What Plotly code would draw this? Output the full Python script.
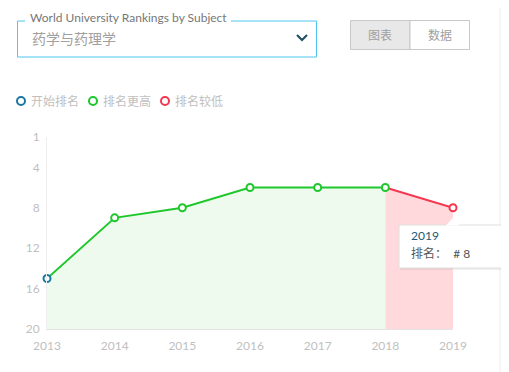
import plotly.graph_objects as go

years = [2013, 2014, 2015, 2016, 2017, 2018, 2019]
ranks = [15, 9, 8, 6, 6, 6, 8]
y_ticks = [1, 4, 8, 12, 16, 20]
legend_labels = ["开始排名", "排名更高", "排名较低"]
subject = "药学与药理学"
dropdown_label = "World University Rankings by Subject"
buttons = ["图表", "数据"]
tooltip_year = "2019"
tooltip_text = "排名：  # 8"

OFF = 8  # page body margin
W, H = 509 - OFF, 372 - OFF
L, R, T, B = 47 - OFF, 453 - OFF, 137 - OFF, 329 - OFF

BLUE = "#19789f"
GREEN = "#1ec82c"
RED = "#f5364f"
FONT = "Lato, Noto Sans CJK SC, sans-serif"


def px(x):
    return (x - OFF - L) / (R - L)


def py(y):
    return (B - (y - OFF)) / (B - T)


fig = go.Figure()

# baseline for fills
fig.add_trace(go.Scatter(x=years[:6], y=[20] * 6, mode="lines", line=dict(width=0),
                         hoverinfo="skip", showlegend=False))
fig.add_trace(go.Scatter(x=years[:6], y=ranks[:6], mode="lines", fill="tonexty",
                         fillcolor="#effaef", line=dict(width=0), hoverinfo="skip",
                         showlegend=False))
fig.add_trace(go.Scatter(x=years[5:], y=[20] * 2, mode="lines", line=dict(width=0),
                         hoverinfo="skip", showlegend=False))
fig.add_trace(go.Scatter(x=years[5:], y=ranks[5:], mode="lines", fill="tonexty",
                         fillcolor="#ffd9dc", line=dict(width=0), hoverinfo="skip",
                         showlegend=False))
# lines
fig.add_trace(go.Scatter(x=years[:6], y=ranks[:6], mode="lines",
                         line=dict(color=GREEN, width=2), showlegend=False))
fig.add_trace(go.Scatter(x=years[5:], y=ranks[5:], mode="lines",
                         line=dict(color=RED, width=2), showlegend=False))
# markers
mcolors = [BLUE] + [GREEN] * 5 + [RED]
fig.add_trace(go.Scatter(x=years, y=ranks, mode="markers", cliponaxis=False,
                         marker=dict(symbol="circle", size=7, color="white",
                                     line=dict(color=mcolors, width=2)),
                         showlegend=False))

shapes = []
annotations = []

# right separator
shapes.append(dict(type="line", xref="paper", yref="paper", x0=px(500), x1=px(500),
                   y0=py(8), y1=py(372), line=dict(color="#eeeeee", width=1)))

# dropdown box
shapes.append(dict(type="rect", xref="paper", yref="paper", x0=px(17.5), x1=px(316.5),
                   y0=py(21), y1=py(57), line=dict(color="#4fc6ef", width=1),
                   fillcolor="white"))
shapes.append(dict(type="rect", xref="paper", yref="paper", x0=px(25), x1=px(231),
                   y0=py(19), y1=py(23), line=dict(width=0), fillcolor="white"))
annotations.append(dict(text=dropdown_label, xref="paper", yref="paper", x=px(28),
                        y=py(18), xanchor="left", yanchor="middle", showarrow=False,
                        font=dict(family=FONT, size=12, color="#777777")))
annotations.append(dict(text=subject, xref="paper", yref="paper", x=px(30), y=py(38),
                        xanchor="left", yanchor="middle", showarrow=False,
                        font=dict(family=FONT, size=14, color="#a0a0a0")))
shapes.append(dict(type="path", xref="paper", yref="paper",
                   path="M %f,%f L %f,%f L %f,%f" % (px(297), py(35), px(302), py(40),
                                                      px(307), py(35)),
                   line=dict(color="#1d4e5f", width=2)))

# buttons
shapes.append(dict(type="rect", xref="paper", yref="paper", x0=px(350.5), x1=px(410),
                   y0=py(20.5), y1=py(49.5), line=dict(color="#c8c8c8", width=1),
                   fillcolor="#e8e8e8"))
shapes.append(dict(type="rect", xref="paper", yref="paper", x0=px(410), x1=px(469.5),
                   y0=py(20.5), y1=py(49.5), line=dict(color="#c8c8c8", width=1),
                   fillcolor="white"))
for lbl, cx in zip(buttons, [380, 440]):
    annotations.append(dict(text=lbl, xref="paper", yref="paper", x=px(cx), y=py(35),
                            xanchor="center", yanchor="middle", showarrow=False,
                            font=dict(family=FONT, size=12, color="#a0a0a0")))

# legend
for lbl, col, cx in zip(legend_labels, [BLUE, GREEN, RED], [21, 93, 165]):
    shapes.append(dict(type="circle", xref="paper", yref="paper", x0=px(cx - 4),
                       x1=px(cx + 4), y0=py(97), y1=py(105),
                       line=dict(color=col, width=2), fillcolor="white"))
    annotations.append(dict(text=lbl, xref="paper", yref="paper", x=px(cx + 8),
                            y=py(101), xanchor="left", yanchor="middle", showarrow=False,
                            font=dict(family=FONT, size=12, color="#c0c0c0")))

# tooltip
shapes.append(dict(type="rect", xref="paper", yref="paper", x0=px(400), x1=px(506),
                   y0=py(226), y1=py(270), line=dict(width=0),
                   fillcolor="rgba(0,0,0,0.06)", layer="above"))
shapes.append(dict(type="rect", xref="paper", yref="paper", x0=px(399), x1=px(504.5),
                   y0=py(225), y1=py(268), line=dict(color="#dedede", width=1),
                   fillcolor="white", layer="above"))
shapes.append(dict(type="path", xref="paper", yref="paper",
                   path="M %f,%f L %f,%f L %f,%f Z" % (px(446), py(225.5), px(453),
                                                      py(218), px(460), py(225.5)),
                   line=dict(width=0), fillcolor="white", layer="above"))
annotations.append(dict(text=tooltip_year, xref="paper", yref="paper", x=px(409),
                        y=py(235), xanchor="left", yanchor="middle", showarrow=False,
                        font=dict(family=FONT, size=12, color="#1a5b7a")))
annotations.append(dict(text=tooltip_text, xref="paper", yref="paper", x=px(409),
                        y=py(253), xanchor="left", yanchor="middle", showarrow=False,
                        font=dict(family=FONT, size=12, color="#555555")))

fig.update_layout(
    width=W, height=H,
    margin=dict(l=L, r=W - R, t=T, b=H - B),
    paper_bgcolor="white", plot_bgcolor="white",
    shapes=shapes, annotations=annotations,
    showlegend=False,
    xaxis=dict(range=[2013, 2019], tickvals=years, ticktext=[str(y) for y in years],
               showgrid=False, zeroline=False, showline=True, linecolor="#e3e3e3",
               ticks="", tickfont=dict(family=FONT, size=12, color="#c0c0c0"),
               ticklabelstandoff=6),
    yaxis=dict(range=[20, 1], tickvals=y_ticks, showgrid=False, zeroline=False,
               showline=True, linecolor="#eeeeee", ticks="",
               tickfont=dict(family=FONT, size=12, color="#c0c0c0"),
               ticklabelstandoff=4),
)

fig.write_html("out.html")
